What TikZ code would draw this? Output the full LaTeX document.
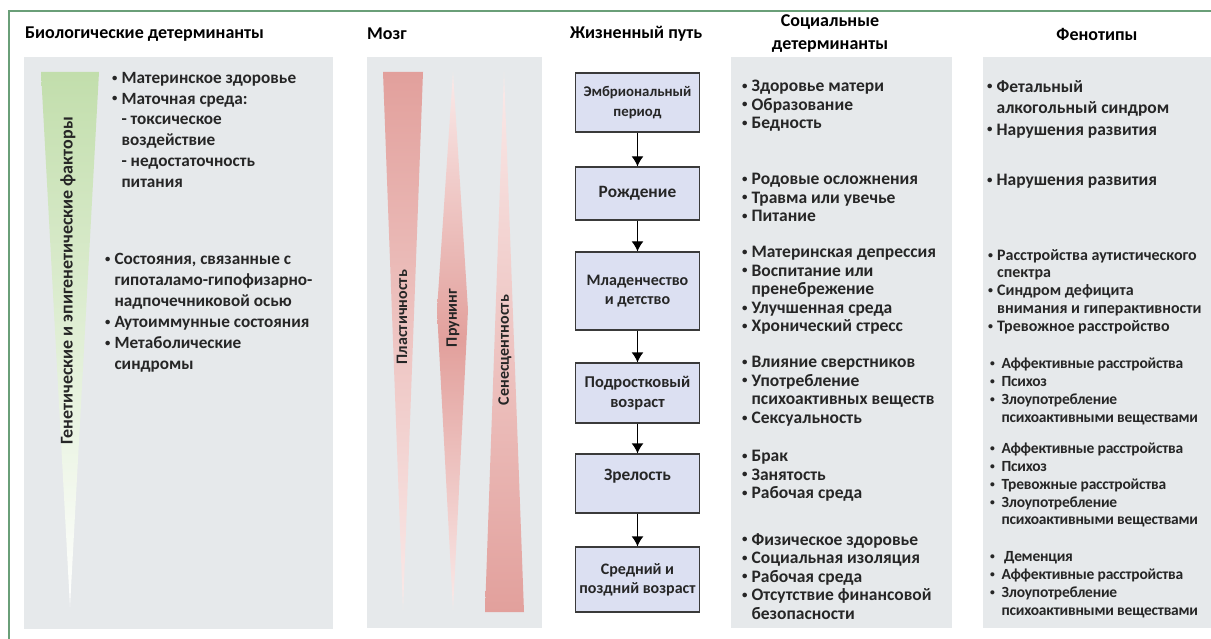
\documentclass[tikz,border=0pt]{standalone}
\usepackage{fontspec}
\setmainfont{Carlito}
\newfontfamily\tightfont[LetterSpace=-1.5]{Carlito}
\usetikzlibrary{arrows.meta,decorations.markings}
\definecolor{panelgray}{HTML}{E6E9EB}
\definecolor{framegreen}{HTML}{6A9F78}
\definecolor{boxfill}{HTML}{DCE0F2}
\definecolor{boxline}{HTML}{3A3A3A}
\definecolor{textdark}{HTML}{262626}
\definecolor{leafgreen}{HTML}{C2DEAC}
\definecolor{rosered}{HTML}{E2A09C}
\definecolor{rosepale}{HTML}{FAEAE9}
\newcommand{\bul}{\raisebox{0.13em}{\scalebox{0.62}{\textbullet}}\hspace{4pt}}
\newcommand{\ind}{\hphantom{\scalebox{0.62}{\textbullet}\hspace{4pt}}}
\tikzstyle {stage box} = [rectangle, draw=boxline, fill=boxfill, line width=1.3pt, minimum width=124pt, align=center, text=textdark, font=\bfseries\fontsize{16}{19}\selectfont]
\tikzstyle {panel} = [fill=panelgray, draw=none]
\tikzstyle {col head} = [font=\bfseries\fontsize{18}{23}\selectfont, align=center, inner sep=0pt]
\tikzstyle {item list} = [anchor=north west, align=left, inner sep=0pt, text=textdark, font=\bfseries\fontsize{17.5}{18.6}\selectfont]
\tikzstyle {wedge label} = [rotate=90, text=textdark, font=\bfseries\fontsize{16}{18}\selectfont]
\tikzset{edge/.style = {line width=1.3pt, decoration={markings,mark=at position 1 with %
            {\arrow{Latex[length=10pt,width=12pt]}}},postaction={decorate}}}

\begin{document}
\begin{tikzpicture}[x=1pt, y=-1pt]
            \useasboundingbox (0,0) rectangle (1211,639);
            \fill[white] (0,0) rectangle (1211,639);
            \draw[framegreen, line width=1.5pt] (9,639) -- (9,11) -- (1211,11);
            % panels
            \fill[panel] (24,57) rectangle (333,629);
            \fill[panel] (367,57) rectangle (542,628);
            \fill[panel] (731,57) rectangle (952,628);
            \fill[panel] (983,57) rectangle (1211,628);
            % headings
            \node[col head, anchor=west] (hbio) at (25,34) {Биологические детерминанты};
            \node[col head, anchor=west] (hbrain) at (367,34) {Мозг};
            \node[col head, anchor=west] (hpath) at (570,34) {Жизненный путь};
            \node[col head] (hsoc) at (830,34) {Социальные\\детерминанты};
            \node[col head] (hphen) at (1097,34) {Фенотипы};
            % wedges
            \shade[top color=leafgreen, bottom color=white] (41,72) -- (99,72) -- (70,607) -- cycle;
            \node[wedge label, font=\bfseries\fontsize{18}{20}\selectfont] (genes) at (68,281) {Генетические и эпигенетические факторы};
            \shade[top color=rosered, bottom color=rosepale] (383,72) -- (423,72) -- (403,610) -- cycle;
            \shade[top color=rosepale, bottom color=rosepale, middle color=rosered] (453,72) -- (468,310) -- (453,610) -- (437,310) -- cycle;
            \shade[top color=rosepale, bottom color=rosered] (504,72) -- (524,612) -- (485,612) -- cycle;
            \node[wedge label] (plast) at (402,317) {Пластичность};
            \node[wedge label] (prun) at (453,318) {Прунинг};
            \node[wedge label] (senes) at (505,350) {Сенесцентность};
            % biological lists
            \node[item list, font=\bfseries\fontsize{17.2}{20.8}\selectfont] (bio1) at (112,72) {\bul Материнское здоровье\\\bul Маточная среда:\\\ind - токсическое\\\ind воздействие\\\ind - недостаточность\\\ind питания};
            \node[item list, font=\bfseries\fontsize{17.2}{21}\selectfont] (bio2) at (105,253) {\bul Состояния, связанные с\\\ind гипоталамо-гипофизарно-\\\ind надпочечниковой осью\\\bul Аутоиммунные состояния\\\bul Метаболические\\\ind синдромы};
            % life course
            \node[stage box, minimum height=59pt, font=\bfseries\fontsize{14.8}{20}\selectfont] (embryo) at (637.5,102.5) {Эмбриональный\\период};
            \node[stage box, minimum height=53pt, font=\bfseries\fontsize{17.3}{20}\selectfont] (birth) at (637.5,193.5) {Рождение};
            \node[stage box, minimum height=78pt] (child) at (637.5,291) {Младенчество\\и детство};
            \node[stage box, minimum height=60pt, font=\bfseries\fontsize{16.5}{20}\selectfont] (teen) at (637.5,393) {Подростковый\\возраст};
            \node[stage box, minimum height=59pt, font=\bfseries\fontsize{17.3}{18}\selectfont] (adult) at (637.5,483.5) {Зрелость\\~};
            \node[stage box, minimum height=65pt] (late) at (637.5,579.5) {Средний и\\поздний возраст};
            \draw[edge] (embryo) -- (birth);
            \draw[edge] (birth) -- (child);
            \draw[edge] (child) -- (teen);
            \draw[edge] (teen) -- (adult);
            \draw[edge] (adult) -- (late);
            % social determinants
            \node[item list] (soc1) at (742,80) {\bul Здоровье матери\\\bul Образование\\\bul Бедность};
            \node[item list] (soc2) at (742,173) {\bul Родовые осложнения\\\bul Травма или увечье\\\bul Питание};
            \node[item list] (soc3) at (742,246) {\bul Материнская депрессия\\\bul Воспитание или\\\ind пренебрежение\\\bul Улучшенная среда\\\bul Хронический стресс};
            \node[item list] (soc4) at (742,356) {\bul Влияние сверстников\\\bul Употребление\\\ind психоактивных веществ\\\bul Сексуальность};
            \node[item list] (soc5) at (742,450) {\bul Брак\\\bul Занятость\\\bul Рабочая среда};
            \node[item list] (soc6) at (742,533) {\bul Физическое здоровье\\\bul Социальная изоляция\\\bul Рабочая среда\\\bul Отсутствие финансовой\\\ind безопасности};
            % phenotypes
            \node[item list, font=\bfseries\fontsize{17.5}{21.5}\selectfont] (phen1) at (987,80) {\bul Фетальный\\\ind алкогольный синдром\\\bul Нарушения развития};
            \node[item list] (phen2) at (987,174) {\bul Нарушения развития};
            \node[item list, font=\bfseries\fontsize{16}{17.8}\selectfont] (phen3) at (988,249) {\bul Расстройства аутистического\\\ind спектра\\\bul Синдром дефицита\\\ind внимания и гиперактивности\\\bul Тревожное расстройство};
            \node[item list, font=\tightfont\bfseries\fontsize{15.5}{18}\selectfont] (phen4) at (990,358) {\bul\,Аффективные расстройства\\\bul\,Психоз\\\bul\,Злоупотребление\\\ind\,психоактивными веществами};
            \node[item list, font=\tightfont\bfseries\fontsize{15.5}{17.8}\selectfont] (phen5) at (990,443) {\bul\,Аффективные расстройства\\\bul\,Психоз\\\bul\,Тревожные расстройства\\\bul\,Злоупотребление\\\ind\,психоактивными веществами};
            \node[item list, font=\tightfont\bfseries\fontsize{15.5}{18}\selectfont] (phen6) at (990,551) {\bul\,\,Деменция\\\bul\,Аффективные расстройства\\\bul\,Злоупотребление\\\ind\,психоактивными веществами};
        \end{tikzpicture}
\end{document}
